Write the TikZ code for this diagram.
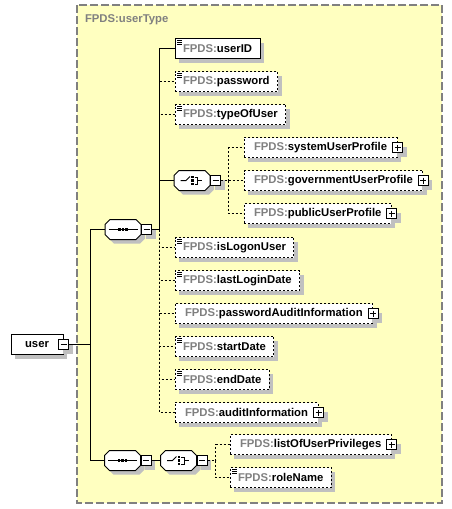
\documentclass[tikz,border=0pt]{standalone}
\usepackage{fontspec}
\setmainfont{Liberation Sans}
\usetikzlibrary{positioning}
\usetikzlibrary{shadows}

\definecolor{typefill}{RGB}{255,255,192}
\definecolor{typedash}{RGB}{128,128,128}
\definecolor{shadegray}{RGB}{192,192,192}
\definecolor{prefixgray}{RGB}{128,128,128}
\newcommand{\fpds}{\textcolor{prefixgray}{FPDS:}}

% octagon round a compositor node, shifted by #2,#3
\newcommand{\octagonof}[3]{([xshift=5pt+#2,yshift=#3]#1.north west) -- ([xshift=-5pt+#2,yshift=#3]#1.north east) -- ([xshift=#2,yshift=-5pt+#3]#1.north east) -- ([xshift=#2,yshift=5pt+#3]#1.south east) -- ([xshift=-5pt+#2,yshift=#3]#1.south east) -- ([xshift=5pt+#2,yshift=#3]#1.south west) -- ([xshift=#2,yshift=5pt+#3]#1.south west) -- ([xshift=#2,yshift=-5pt+#3]#1.north west) -- cycle}

\tikzset{
  boxshadow/.style={drop shadow={shadow xshift=4pt, shadow yshift=-4pt, fill=shadegray, opacity=1}},
  elem/.style={draw, fill=white, boxshadow, minimum height=20pt, inner xsep=8pt, inner ysep=0pt, anchor=west, font=\fontsize{11.3}{13}\selectfont\bfseries},
  optelem/.style={elem, dash pattern=on 2pt off 2pt},
  simple/.style={path picture={\foreach \k in {1.5,3.5,5.5} \draw[line width=0.8pt, solid] ([xshift=2pt,yshift=-\k pt]path picture bounding box.north west) -- ++(5pt,0pt);}},
  pmbox/.style={draw, fill=white, boxshadow, minimum size=10pt, inner sep=0pt, solid},
  minusbox/.style={pmbox, path picture={\draw[solid] ([xshift=2pt]path picture bounding box.west) -- ([xshift=-2pt]path picture bounding box.east);}},
  plusbox/.style={pmbox, path picture={\draw[solid] ([xshift=2pt]path picture bounding box.west) -- ([xshift=-2pt]path picture bounding box.east); \draw[solid] ([yshift=-2pt]path picture bounding box.north) -- ([yshift=2pt]path picture bounding box.south);}},
  compositor/.style={minimum width=35pt, minimum height=19pt, inner sep=0pt},
  optline/.style={dash pattern=on 2pt off 2pt},
}

\begin{document}
\begin{tikzpicture}[x=1pt, y=-1pt, line width=1pt]
  % Page as large as the reference
  \useasboundingbox (0,0) rectangle (452,509);

  \begin{scope}[shift={(0.5,0.5)}]
  % The complex type frame
  \draw[fill=typefill, draw=typedash, line width=2pt, dash pattern=on 8pt off 3pt] (76.5,4.5) rectangle (441.5,502.5);
  \node[anchor=west, text=prefixgray, font=\fontsize{11.3}{13}\selectfont\bfseries, inner sep=0pt] (typename) at (84,19) {FPDS:userType};

  % Bus points
  \coordinate (busU) at (90,344);
  \coordinate (busA) at (159,229);
  \coordinate (busC) at (228,180);
  \coordinate (busB) at (215,460);

  % Root element
  \node[elem, minimum width=52pt] (user) at (10,344) {user};
  \node[minusbox] (userm) at (user.east) {};

  % Compositors
  \node[compositor] (seqA) at (122.5,229) {};
  \node[compositor] (choiceA) at (191.5,180) {};
  \node[compositor] (seqB) at (122,460) {};
  \node[compositor, right=10pt of seqB.east, xshift=10pt] (choiceB) {};
  \foreach \c in {seqA,choiceA,seqB,choiceB} {
    \fill[shadegray] \octagonof{\c}{4pt}{-4pt};
    \filldraw[fill=white] \octagonof{\c}{0pt}{0pt};
  }
  % sequence marks
  \foreach \c in {seqA,seqB} {
    \draw ([xshift=-14.5pt]\c.center) -- ([xshift=14.5pt]\c.center);
    \foreach \d in {-3.5,0,3.5}
      \fill ([xshift=\d pt]\c.center) +(-1.3pt,-1.3pt) rectangle +(1.3pt,1.3pt);
  }
  % choice marks
  \foreach \c in {choiceA,choiceB} {
    \draw ([xshift=-11.5pt]\c.center) -- ([xshift=-6pt]\c.center) -- ([xshift=-2pt,yshift=4pt]\c.center);
    \foreach \d in {-3.5,0,3.5}
      \fill ([xshift=0.5pt,yshift=\d pt]\c.center) +(-1.2pt,-1.2pt) rectangle +(1.2pt,1.2pt);
    \draw ([xshift=2.5pt,yshift=3.5pt]\c.center) -- ([xshift=5.5pt,yshift=3.5pt]\c.center) -- ([xshift=5.5pt,yshift=-3.5pt]\c.center) -- ([xshift=2.5pt,yshift=-3.5pt]\c.center);
    \draw ([xshift=5.5pt]\c.center) -- ([xshift=10pt]\c.center);
  }
  \foreach \c in {seqA,choiceA,seqB,choiceB}
    \node[minusbox, right=0pt of \c] (\c m) {};

  % Children of the first sequence
  \node[elem, simple] (userID) at (174,48) {\fpds userID};
  \foreach \n/\y in {password/81,typeOfUser/114,isLogonUser/247,lastLoginDate/280,startDate/346,endDate/379}
    \node[optelem, simple] (\n) at (174,\y) {\fpds\n};
  \foreach \n/\y in {passwordAuditInformation/313,auditInformation/412}
    \node[optelem, inner xsep=10pt] (\n) at (174,\y) {\fpds\n};

  % Children of the choices
  \foreach \n/\y in {systemUserProfile/147,governmentUserProfile/180,publicUserProfile/213}
    \node[optelem, inner xsep=10pt] (\n) at (243,\y) {\fpds\n};
  \node[optelem, inner xsep=10pt] (listOfUserPrivileges) at (229,444) {\fpds listOfUserPrivileges};
  \node[optelem, simple] (roleName) at (229,477) {\fpds roleName};

  % Expand boxes
  \foreach \n in {passwordAuditInformation,auditInformation,systemUserProfile,governmentUserProfile,publicUserProfile,listOfUserPrivileges}
    \node[plusbox] (\n p) at (\n.east) {};

  % Connectors
  \draw (userm.east) -- (busU);
  \draw (busU) |- (seqA.west);
  \draw (busU) |- (seqB.west);
  \draw (seqAm.east) -- (busA);
  \foreach \n in {password,typeOfUser,isLogonUser,lastLoginDate,passwordAuditInformation,startDate,endDate,auditInformation}
    \draw[optline] (busA) |- (\n.west);
  \draw (busA) |- (userID.west);
  \draw (busA) |- (choiceA.west);
  \draw[optline] (choiceAm.east) -- (busC);
  \foreach \n in {systemUserProfile,governmentUserProfile,publicUserProfile}
    \draw[optline] (busC) |- (\n.west);
  \draw (seqBm.east) -- (choiceB.west);
  \draw[optline] (choiceBm.east) -- (busB);
  \draw[optline] (busB) |- (listOfUserPrivileges.west);
  \draw[optline] (busB) |- (roleName.west);
  \end{scope}
\end{tikzpicture}
\end{document}
